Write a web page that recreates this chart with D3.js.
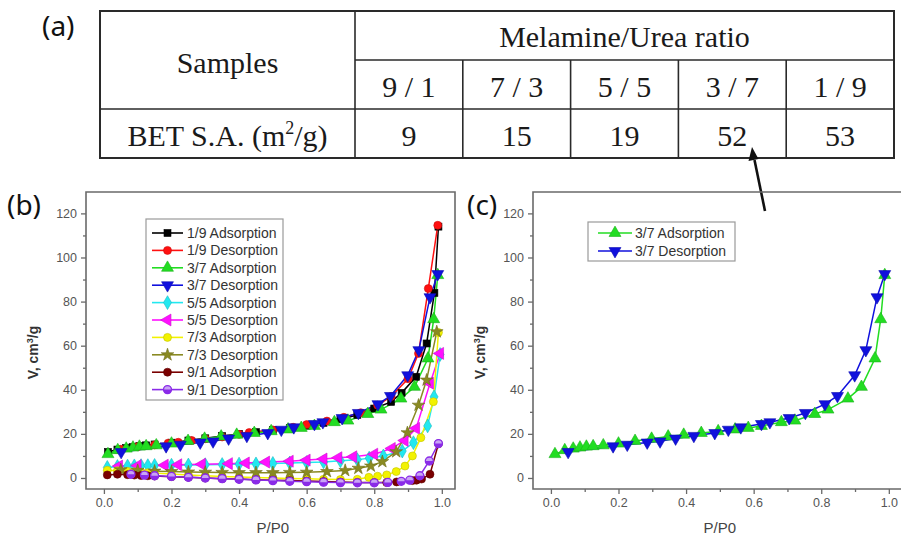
<!DOCTYPE html>
<html><head><meta charset="utf-8">
<script src="https://cdn.jsdelivr.net/npm/d3@7"></script>
<style>body{margin:0;background:#fff}svg{display:block}</style>
</head><body>
<svg id="chart" width="901" height="535"></svg>
<script>
// ---------- table data ----------
const ratioLabels = ["9 / 1", "7 / 3", "5 / 5", "3 / 7", "1 / 9"];
const betSurfaceArea = [9, 15, 19, 52, 53];

// ---------- axis ticks ----------
const yTicks = [0, 20, 40, 60, 80, 100, 120];
const yMinorTicks = [10, 30, 50, 70, 90, 110];
const xTicks = [0, 0.2, 0.4, 0.6, 0.8, 1.0];
const xMinorTicks = [0.1, 0.3, 0.5, 0.7, 0.9];

// ---------- isotherm series (P/P0, V cm3/g) ----------
const seriesNames = ["1/9 Adsorption","1/9 Desorption","3/7 Adsorption","3/7 Desorption",
  "5/5 Adsorption","5/5 Desorption","7/3 Adsorption","7/3 Desorption","9/1 Adsorption","9/1 Desorption"];

const p19Ads = [0.012,0.04,0.065,0.085,0.105,0.125,0.15,0.2,0.25,0.3,0.35,0.4,0.45,0.5,0.55,0.6,0.65,0.7,0.75,0.8,0.85,0.881,0.924,0.955,0.978,0.99];
const v19Ads = [11.8,12.9,13.6,14.0,14.5,14.8,15.2,16.0,17.0,18.0,19.0,20.0,20.8,21.7,22.6,23.7,25.0,26.6,28.6,31.5,34.5,38.6,45.9,61.0,83.9,114.0];

const p19Des = [0.988,0.96,0.931,0.9,0.85,0.81,0.76,0.71,0.66,0.6,0.56,0.5,0.43,0.4,0.35,0.3,0.26,0.22,0.19,0.15,0.1,0.05];
const v19Des = [114.6,85.9,56.5,45.0,37.0,33.0,29.6,27.5,25.8,24.2,23.0,21.8,20.6,19.8,18.6,17.8,17.0,16.2,15.8,15.0,14.2,13.0];

const p37Ads = [0.012,0.041,0.066,0.086,0.105,0.125,0.155,0.2,0.249,0.298,0.347,0.393,0.445,0.495,0.545,0.584,0.623,0.682,0.722,0.781,0.82,0.879,0.919,0.959,0.976,0.988];
const v37Ads = [10.8,12.6,13.3,13.8,14.2,14.4,14.8,15.6,16.8,17.8,18.8,19.6,20.4,21.2,22.0,22.7,23.6,25.3,26.0,29.0,31.0,36.0,41.3,54.2,72.0,92.0];

const p37Des = [0.988,0.965,0.932,0.899,0.848,0.811,0.753,0.705,0.648,0.623,0.562,0.525,0.485,0.423,0.369,0.323,0.285,0.226,0.184,0.051];
const v37Des = [92.5,82.0,58.0,46.6,37.2,33.5,29.5,27.2,25.3,24.5,23.0,21.9,20.4,19.1,17.9,16.6,16.1,15.1,14.4,11.8];

const p55Ads = [0.01,0.04,0.07,0.09,0.11,0.13,0.15,0.2,0.25,0.3,0.35,0.4,0.45,0.5,0.55,0.6,0.65,0.7,0.75,0.785,0.827,0.883,0.916,0.958,0.977,0.995];
const v55Ads = [4.8,5.2,5.4,5.5,5.6,5.6,5.7,5.8,5.9,6.0,6.1,6.3,6.4,6.6,6.8,7.0,7.3,7.8,8.3,9.0,10.0,12.2,16.0,23.6,36.8,56.0];

const p55Des = [0.995,0.965,0.924,0.89,0.852,0.8,0.738,0.694,0.65,0.6,0.55,0.48,0.42,0.37,0.29,0.22,0.18,0.1,0.045];
const v55Des = [56.5,43.0,22.5,17.0,13.4,10.8,9.6,9.2,8.6,8.1,7.6,7.2,6.8,6.5,6.2,6.0,5.8,5.6,5.4];

const p73Ads = [0.01,0.04,0.07,0.09,0.11,0.13,0.15,0.2,0.25,0.3,0.35,0.4,0.45,0.5,0.55,0.6,0.65,0.7,0.75,0.784,0.81,0.837,0.865,0.891,0.913,0.938,0.975,0.99];
const v73Ads = [3.5,3.3,3.0,2.8,2.6,2.4,2.2,1.8,1.4,1.0,0.7,0.4,0.2,0.0,-0.2,-0.4,-0.6,-0.7,-0.6,0.3,0.8,1.4,2.9,5.4,10.0,18.3,34.6,66.0];

const p73Des = [0.985,0.955,0.931,0.898,0.865,0.824,0.79,0.753,0.714,0.66,0.6,0.55,0.5,0.45,0.4,0.35,0.3,0.25,0.2,0.15,0.1,0.05];
const v73Des = [66.3,44.4,33.0,20.5,11.9,7.4,5.4,4.4,3.4,2.9,2.6,2.5,2.4,2.4,2.4,2.5,2.6,2.7,2.9,3.1,3.4,3.7];

const p91Ads = [0.01,0.04,0.07,0.09,0.11,0.13,0.15,0.2,0.25,0.3,0.35,0.4,0.45,0.5,0.55,0.6,0.65,0.7,0.75,0.8,0.837,0.866,0.913,0.925,0.94,0.965,0.99];
const v91Ads = [1.4,1.7,1.5,1.3,1.1,1.0,0.9,0.6,0.3,0.0,-0.3,-0.5,-0.8,-1.0,-1.2,-1.4,-1.6,-1.8,-2.0,-2.1,-2.1,-1.8,-1.2,-1.0,-0.5,1.7,15.5];

const p91Des = [0.99,0.963,0.935,0.905,0.88,0.84,0.8,0.75,0.7,0.65,0.6,0.55,0.5,0.45,0.4,0.35,0.3,0.25,0.2,0.15,0.12,0.08];
const v91Des = [15.6,7.7,1.0,-1.0,-1.5,-2.0,-2.2,-2.2,-2.1,-1.9,-1.7,-1.5,-1.2,-0.9,-0.6,-0.3,0.0,0.3,0.7,1.0,1.3,1.7];

// ---------- styles ----------
const seriesColors = ["#000000","#ff1010","#22dd22","#1010dd","#22e8f0","#ff10ff","#f2f200","#8a8a22","#7a0000","#8a2be8"];
const seriesSymbols = ["square","circle","up","down","diamond","left","circle","star","circle","half"];

const allP = [p19Ads,p19Des,p37Ads,p37Des,p55Ads,p55Des,p73Ads,p73Des,p91Ads,p91Des];
const allV = [v19Ads,v19Des,v37Ads,v37Des,v55Ads,v55Des,v73Ads,v73Des,v91Ads,v91Des];
const series = seriesNames.map((n,i)=>({name:n, idx:i, pts: allP[i].map((p,j)=>[p, allV[i][j]])}));

const svg = d3.select("#chart");
const SANS = "'Liberation Sans', Arial, sans-serif";
const SERIF = "'Liberation Serif', 'Times New Roman', serif";
const LABELFONT = "'Noto Sans', 'Open Sans', sans-serif";

// ---------- table ----------
const tbl = svg.append("g");
const tLeft = 100, tRight = 894, tTop = 11, tMid1 = 60, tMid2 = 109, tBottom = 158, tSplit = 355;
const colScale = d3.scaleBand().domain(ratioLabels).range([tSplit, tRight]);
const tStroke = "#2a2a2a";
tbl.append("rect").attr("x",tLeft).attr("y",tTop).attr("width",tRight-tLeft).attr("height",tBottom-tTop)
  .attr("fill","none").attr("stroke",tStroke).attr("stroke-width",2);
tbl.append("line").attr("x1",tSplit).attr("x2",tSplit).attr("y1",tTop).attr("y2",tBottom).attr("stroke",tStroke).attr("stroke-width",1.6);
tbl.append("line").attr("x1",tSplit).attr("x2",tRight).attr("y1",tMid1).attr("y2",tMid1).attr("stroke",tStroke).attr("stroke-width",1.6);
tbl.append("line").attr("x1",tLeft).attr("x2",tRight).attr("y1",tMid2).attr("y2",tMid2).attr("stroke",tStroke).attr("stroke-width",1.6);
ratioLabels.slice(1).forEach(r=>{
  tbl.append("line").attr("x1",colScale(r)).attr("x2",colScale(r)).attr("y1",tMid1).attr("y2",tBottom).attr("stroke",tStroke).attr("stroke-width",1.6);
});
const TFS = 30;
const tText = (x,y,t)=>tbl.append("text").attr("x",x).attr("y",y).attr("text-anchor","middle")
  .attr("font-family",SERIF).attr("font-size",TFS).attr("fill","#1a1a1a").text(t);
tText((tLeft+tSplit)/2, 73, "Samples");
tText((tSplit+tRight)/2, 47, "Melamine/Urea ratio");
ratioLabels.forEach((r,i)=>{
  tText(colScale(r)+colScale.bandwidth()/2, 97, r);
  tText(colScale(r)+colScale.bandwidth()/2, 146, betSurfaceArea[i]);
});
const bet = tbl.append("text").attr("x",(tLeft+tSplit)/2).attr("y",146).attr("text-anchor","middle")
  .attr("font-family",SERIF).attr("font-size",TFS).attr("fill","#1a1a1a");
bet.append("tspan").text("BET S.A. (m");
bet.append("tspan").attr("font-size",18).attr("dy",-12).text("2");
bet.append("tspan").attr("dy",12).text("/g)");

// panel labels
const pl = (x,y,t)=>svg.append("text").attr("x",x).attr("y",y).attr("font-family",LABELFONT)
  .attr("font-size",28).attr("fill","#111").text(t);
pl(42,36,"(a)"); pl(7,215,"(b)"); pl(467,215,"(c)");

// arrow
svg.append("line").attr("x1",765).attr("y1",211).attr("x2",754.5).attr("y2",160)
  .attr("stroke","#111").attr("stroke-width",2.6);
svg.append("path").attr("d","M752,147 L748.5,161 L758.5,159 Z").attr("fill","#111");

// ---------- symbol helper ----------
function drawMarker(g, sym, color, x, y, s) {
  s = s || 1;
  const stroke = d3.color(color).darker(0.6);
  if (sym === "square") g.append("rect").attr("x",x-3.5*s).attr("y",y-3.5*s).attr("width",7*s).attr("height",7*s).attr("fill",color).attr("stroke",stroke).attr("stroke-width",0.6);
  else if (sym === "circle") g.append("circle").attr("cx",x).attr("cy",y).attr("r",4*s).attr("fill",color).attr("stroke",stroke).attr("stroke-width",0.6);
  else if (sym === "half") {
    g.append("circle").attr("cx",x).attr("cy",y).attr("r",4*s).attr("fill","#c9a4f5").attr("stroke",color).attr("stroke-width",1.3);
    g.append("path").attr("d",`M${x-4*s},${y} A${4*s},${4*s} 0 0 0 ${x+4*s},${y} Z`).attr("fill",color);
  } else {
    let type = d3.symbolTriangle, rot = 0, size = 62*s*s;
    if (sym === "down") rot = 180;
    if (sym === "left") rot = -90;
    if (sym === "diamond") { type = d3.symbolDiamond; size = 55*s*s; }
    if (sym === "star") { type = d3.symbolStar; size = 50*s*s; }
    g.append("path").attr("d", d3.symbol().type(type).size(size)())
      .attr("transform",`translate(${x},${y}) rotate(${rot})`).attr("fill",color).attr("stroke",stroke).attr("stroke-width",0.6);
  }
}

// ---------- panel drawer ----------
function drawPanel(opts) {
  const {left, right, top, bottom, idxs, legend} = opts;
  const x = d3.scaleLinear().domain([-0.053, 1.039]).range([left, left + 369]);
  const y = d3.scaleLinear().domain([-5, 129.7]).range([bottom, top]);
  const g = svg.append("g");
  const axisCol = "#555";

  g.append("path").attr("d",`M${left},${bottom} L${left},${top} L${right},${top} L${right},${bottom} Z`)
    .attr("fill","none").attr("stroke","#6a6a6a").attr("stroke-width",1.6);

  const styleAxis = (sel)=>{
    sel.select(".domain").remove();
    sel.selectAll(".tick line").attr("stroke","#6a6a6a").attr("stroke-width",1.3);
    sel.selectAll(".tick text").attr("font-family",SANS).attr("font-size",12.5).attr("fill",axisCol);
  };
  g.append("g").attr("transform",`translate(${left},0)`)
    .call(d3.axisLeft(y).tickValues(yTicks).tickSize(5).tickPadding(4).tickFormat(d3.format("d"))).call(styleAxis);
  g.append("g").attr("transform",`translate(${left},0)`)
    .call(d3.axisLeft(y).tickValues(yMinorTicks).tickSize(3).tickFormat("")).call(styleAxis);
  g.append("g").attr("transform",`translate(0,${bottom})`)
    .call(d3.axisBottom(x).tickValues(xTicks).tickSize(5).tickPadding(4).tickFormat(d3.format(".1f"))).call(styleAxis);
  g.append("g").attr("transform",`translate(0,${bottom})`)
    .call(d3.axisBottom(x).tickValues(xMinorTicks).tickSize(3).tickFormat("")).call(styleAxis);

  const yt = g.append("text").attr("transform",`translate(${left-48},${(top+bottom)/2+12}) rotate(-90)`)
    .attr("text-anchor","middle").attr("font-family",SANS).attr("font-weight","bold").attr("font-size",14).attr("fill","#333");
  yt.append("tspan").text("V, cm");
  yt.append("tspan").attr("font-size",9).attr("dy",-5).text("3");
  yt.append("tspan").attr("dy",5).text("/g");
  g.append("text").attr("x",x(0.5)).attr("y",533).attr("text-anchor","middle")
    .attr("font-family",SANS).attr("font-size",15).attr("fill","#444").text("P/P0");

  const line = d3.line().x(d=>x(d[0])).y(d=>y(d[1]));
  idxs.forEach(i=>{
    g.append("path").attr("d",line(series[i].pts)).attr("fill","none").attr("stroke",seriesColors[i]).attr("stroke-width",1.5);
  });
  idxs.forEach(i=>{
    const mg = g.append("g");
    series[i].pts.forEach(d=>drawMarker(mg, seriesSymbols[i], seriesColors[i], x(d[0]), y(d[1])));
  });

  const L = legend;
  g.append("rect").attr("x",L.x).attr("y",L.y).attr("width",L.w).attr("height",L.h)
    .attr("fill","#fff").attr("stroke","#9a9a9a").attr("stroke-width",1.2);
  idxs.forEach((i,k)=>{
    const cy = L.firstY + k*L.step;
    g.append("line").attr("x1",L.lx1).attr("x2",L.lx2).attr("y1",cy).attr("y2",cy).attr("stroke",seriesColors[i]).attr("stroke-width",1.6);
    drawMarker(g, seriesSymbols[i], seriesColors[i], (L.lx1+L.lx2)/2, cy);
    g.append("text").attr("x",L.tx).attr("y",cy+5).attr("font-family",SANS).attr("font-size",14)
      .attr("fill","#333").text(seriesNames[i]);
  });
}

drawPanel({left:86, right:455, top:192, bottom:489, idxs:[0,1,2,3,4,5,6,7,8,9],
  legend:{x:146, y:219, w:137, h:181, firstY:233, step:17.4, lx1:152, lx2:183, tx:187}});
drawPanel({left:533, right:903, top:192, bottom:489, idxs:[2,3],
  legend:{x:588, y:222, w:147, h:39, firstY:233, step:18, lx1:598, lx2:632, tx:635}});
</script>
</body></html>
